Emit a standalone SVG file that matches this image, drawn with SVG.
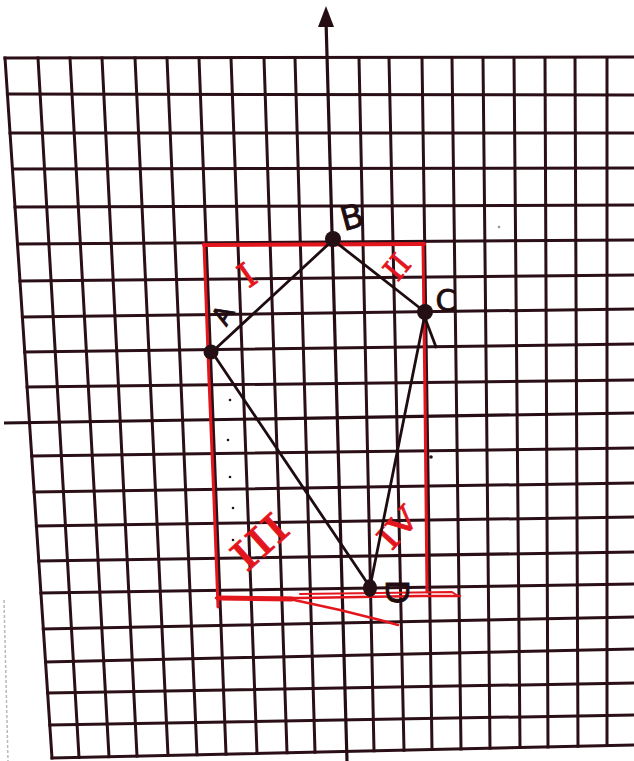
<svg xmlns="http://www.w3.org/2000/svg" width="634" height="761" viewBox="0 0 634 761">
<style>
.grid{fill:none;stroke:#2a0f16;stroke-width:3;stroke-linecap:square}
.axis{fill:none;stroke:#260d14;stroke-width:3.2}
.edge{fill:none;stroke:#1e0c10;stroke-width:2.8;stroke-linecap:round}
.red{fill:none;stroke:#e3161e;stroke-linecap:round;stroke-linejoin:round}
.pt{fill:#241014}
.lbl{font-family:"DejaVu Sans","Liberation Sans",sans-serif;fill:#1e0c10;stroke:#1e0c10;stroke-width:0.8;text-anchor:middle;dominant-baseline:central}
.rn{font-family:"DejaVu Serif","Liberation Serif",serif;fill:#e3161e;stroke:#e3161e;stroke-width:0.8;text-anchor:middle;dominant-baseline:central}
</style>
<rect width="634" height="761" fill="#ffffff"/>
<path d="M4,600 L8,761" fill="none" stroke="#b8b8b8" stroke-width="1.5" stroke-dasharray="3 2"/>
<g id="grid">
<path class="grid" d="M5,58 L634,57 M7.4,94 L634,95 M10,133 L634,133 M12.5,169 L634,168 M15,207 L634,205 M17.5,244 L634,240 M20,281 L634,275 M22.4,317 L634,309 M24.7,352 L634,344 M27.1,387 L634,380 M31.7,456 L634,448 M34.1,492 L634,483 M36.4,526 L634,517 M38.8,561 L634,552 M40.9,593 L634,584 M43.3,629 L634,617 M45.6,662 L634,649 M47.6,693 L634,683 M49.8,725 L634,715 M52,758 L634,745"/>
<path class="grid" d="M5,58 L52,758 M38,58 L79,757.4 M70,58 L109,756.7 M102,58 L137,756.1 M135,58 L168,755.4 M167,58 L197,754.8 M199,58 L226,754.1 M231,58 L257,753.5 M264,58 L287,752.8 M295,58 L315,752.1 M359,58 L374,750.8 M389,58 L404,750.2 M422,58 L432,749.5 M452,58 L461,748.9 M483,58 L490,748.2 M514,58 L520,747.5 M545,58 L548,746.9 M575,58 L578,746.2 M607,58 L607,745.6"/>
<path class="axis" d="M4,423 L634,413"/>
<path class="axis" d="M326,20 L347,761"/>
<polygon points="326,6 318,27 334,27" fill="#260d14"/>
</g>
<g id="red-box">
<polyline class="red" stroke-width="3" points="204,244 209,380 214,500 218,607"/>
<polyline class="red" stroke-width="4" points="204,245 424,244"/>
<polyline class="red" stroke-width="3" points="423,244 425,400 427,592"/>
<polyline class="red" stroke-width="5" points="218,598 292,599"/>
<polyline class="red" stroke-width="2.5" points="216,598 300,598 420,596 460,596"/>
<polyline class="red" stroke-width="2" points="300,594 452,592 458,596"/>
<polyline class="red" stroke-width="2.5" points="285,598 340,610 380,620 398,625"/>
<text class="rn" transform="translate(247,275) rotate(-35)" font-size="34">I</text>
<text class="rn" transform="translate(397,267) rotate(-50)" font-size="30">II</text>
<text class="rn" transform="translate(260,542) rotate(-42)" font-size="40" textLength="62" lengthAdjust="spacingAndGlyphs">III</text>
<text class="rn" transform="translate(398,528) rotate(-48)" font-size="32" textLength="44" lengthAdjust="spacingAndGlyphs">IV</text>
</g>
<g id="connectors">
<line class="edge" x1="212" y1="352" x2="333" y2="240"/>
<line class="edge" x1="333" y1="240" x2="425" y2="312"/>
<line class="edge" x1="425" y1="314" x2="370" y2="587"/>
<line class="edge" x1="425" y1="318" x2="436" y2="347"/>
<line class="edge" x1="212" y1="352" x2="370" y2="587"/>
</g>
<g id="node-A">
<circle class="pt" cx="211" cy="352" r="7.5"/>
<text class="lbl" transform="translate(223,315) rotate(-60)" font-size="26">A</text>
</g>
<g id="node-B">
<circle class="pt" cx="333" cy="239" r="8"/>
<text class="lbl" transform="translate(352,217) rotate(-15)" font-size="33">B</text>
</g>
<g id="node-C">
<circle class="pt" cx="425" cy="312" r="8"/>
<text class="lbl" x="446" y="300" font-size="30">C</text>
</g>
<g id="node-D">
<ellipse class="pt" cx="370" cy="588" rx="7" ry="9"/>
<text class="lbl" transform="translate(397,592) rotate(90)" font-size="32">D</text>
</g>
<g id="marks">
<circle class="pt" cx="230" cy="400" r="1.3"/>
<circle class="pt" cx="228" cy="440" r="1.3"/>
<circle class="pt" cx="230" cy="477" r="1.3"/>
<circle class="pt" cx="233" cy="508" r="1.3"/>
<circle class="pt" cx="233" cy="540" r="1.3"/>
<circle cx="499" cy="227" r="1.3" fill="#999"/>
<circle class="pt" cx="431" cy="457" r="1.8"/>
</g>
</svg>
